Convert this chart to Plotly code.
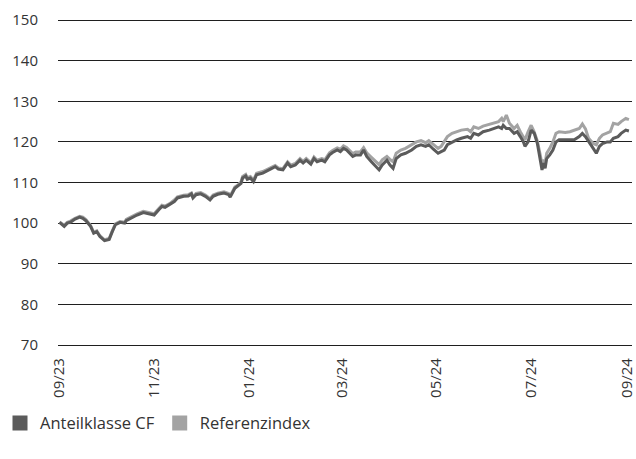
import plotly.graph_objects as go

dates = [
    "2023-09-01", "2023-09-04", "2023-09-06", "2023-09-08", "2023-09-11", "2023-09-14", "2023-09-16", "2023-09-18",
    "2023-09-21", "2023-09-23", "2023-09-25", "2023-09-27", "2023-09-30", "2023-10-03", "2023-10-05", "2023-10-07",
    "2023-10-10", "2023-10-13", "2023-10-14", "2023-10-18", "2023-10-21", "2023-10-25", "2023-10-29", "2023-11-01",
    "2023-11-04", "2023-11-06", "2023-11-08", "2023-11-11", "2023-11-14", "2023-11-16", "2023-11-20", "2023-11-23",
    "2023-11-25", "2023-11-26", "2023-11-28", "2023-12-01", "2023-12-04", "2023-12-07", "2023-12-09", "2023-12-12",
    "2023-12-16", "2023-12-19", "2023-12-20", "2023-12-23", "2023-12-25", "2023-12-27", "2023-12-28", "2023-12-30",
    "2023-12-31", "2024-01-02", "2024-01-04", "2024-01-06", "2024-01-10", "2024-01-12", "2024-01-15", "2024-01-18",
    "2024-01-20", "2024-01-23", "2024-01-26", "2024-01-28", "2024-01-31", "2024-02-03", "2024-02-05", "2024-02-07",
    "2024-02-10", "2024-02-12", "2024-02-14", "2024-02-17", "2024-02-19", "2024-02-22", "2024-02-24", "2024-02-27",
    "2024-02-29", "2024-03-02", "2024-03-04", "2024-03-06", "2024-03-08", "2024-03-10", "2024-03-13", "2024-03-15",
    "2024-03-17", "2024-03-20", "2024-03-23", "2024-03-25", "2024-03-27", "2024-03-30", "2024-04-01", "2024-04-03",
    "2024-04-05", "2024-04-08", "2024-04-11", "2024-04-15", "2024-04-18", "2024-04-21", "2024-04-24", "2024-04-26",
    "2024-04-29", "2024-05-02", "2024-05-04", "2024-05-06", "2024-05-08", "2024-05-11", "2024-05-14", "2024-05-17",
    "2024-05-21", "2024-05-23", "2024-05-25", "2024-05-28", "2024-05-31", "2024-06-04", "2024-06-07", "2024-06-10",
    "2024-06-12", "2024-06-13", "2024-06-15", "2024-06-17", "2024-06-20", "2024-06-22", "2024-06-24", "2024-06-26",
    "2024-06-27", "2024-06-29", "2024-07-01", "2024-07-03", "2024-07-05", "2024-07-07", "2024-07-08", "2024-07-09",
    "2024-07-10", "2024-07-11", "2024-07-13", "2024-07-15", "2024-07-17", "2024-07-19", "2024-07-23", "2024-07-26",
    "2024-07-29", "2024-08-01", "2024-08-03", "2024-08-05", "2024-08-07", "2024-08-10", "2024-08-12", "2024-08-14",
    "2024-08-16", "2024-08-19", "2024-08-21", "2024-08-23", "2024-08-26", "2024-08-28", "2024-08-31", "2024-09-02",
]

fund_cf = [
    100.2, 99.2, 100.0, 100.2, 101.0, 101.5, 101.2, 100.6,
    99.2, 97.5, 97.9, 96.7, 95.7, 96.0, 97.9, 99.6,
    100.2, 100.0, 100.6, 101.5, 102.0, 102.6, 102.3, 102.0,
    103.3, 104.1, 103.9, 104.5, 105.3, 106.2, 106.6, 106.7,
    107.2, 106.2, 107.0, 107.2, 106.6, 105.7, 106.6, 107.1,
    107.4, 107.0, 106.4, 108.6, 109.1, 109.8, 111.1, 111.6,
    110.8, 111.1, 110.2, 111.9, 112.3, 112.7, 113.3, 113.9,
    113.3, 113.1, 114.8, 113.9, 114.3, 115.5, 114.8, 115.5,
    114.5, 115.9, 115.1, 115.5, 115.1, 116.8, 117.4, 118.0,
    117.6, 118.4, 118.0, 117.2, 116.4, 116.8, 116.8, 118.0,
    116.4, 115.1, 113.9, 113.1, 114.3, 115.5, 114.3, 113.5,
    115.9, 116.8, 117.2, 118.0, 118.9, 119.3, 118.9, 119.3,
    118.2, 117.2, 117.6, 118.0, 119.3, 120.0, 120.5, 120.9,
    121.3, 120.9, 122.1, 121.7, 122.5, 122.9, 123.3, 123.7,
    123.3, 124.1, 123.3, 123.3, 122.1, 122.5, 121.3, 120.0,
    118.9, 120.0, 122.9, 122.1, 119.6, 115.5, 113.1, 114.8,
    113.5, 115.9, 116.8, 118.0, 120.0, 120.5, 120.5, 120.5,
    120.6, 121.3, 122.1, 121.3, 120.0, 118.4, 117.2, 118.9,
    119.6, 120.0, 120.0, 120.9, 121.3, 122.1, 122.9, 122.7,
]

referenz = [
    100.3, 99.5, 100.2, 100.5, 101.2, 101.7, 101.5, 100.9,
    99.4, 97.8, 98.1, 96.9, 95.9, 96.2, 98.1, 99.8,
    100.4, 100.2, 100.9, 101.8, 102.3, 102.9, 102.5, 102.3,
    103.6, 104.4, 104.2, 104.8, 105.7, 106.5, 106.9, 107.0,
    107.4, 106.5, 107.3, 107.5, 106.9, 106.0, 106.9, 107.4,
    107.7, 107.3, 106.7, 108.9, 109.4, 110.2, 111.5, 112.0,
    111.2, 111.5, 110.6, 112.3, 112.7, 113.1, 113.7, 114.2,
    113.6, 113.4, 115.1, 114.3, 114.7, 115.9, 115.2, 115.9,
    114.9, 116.3, 115.5, 115.9, 115.6, 117.3, 117.9, 118.5,
    118.2, 119.0, 118.6, 117.8, 117.1, 117.5, 117.6, 118.6,
    117.3, 116.2, 115.0, 114.4, 115.6, 116.4, 115.7, 115.1,
    117.2, 118.0, 118.4, 119.3, 120.0, 120.3, 119.8, 120.3,
    119.3, 118.4, 118.9, 120.0, 121.3, 122.1, 122.5, 122.9,
    123.1, 122.5, 123.7, 123.3, 123.9, 124.4, 124.6, 125.0,
    125.8, 125.0, 126.6, 124.6, 123.3, 124.1, 122.5, 121.3,
    120.5, 122.5, 124.1, 122.4, 120.2, 116.5, 114.3, 115.6,
    114.8, 117.2, 118.4, 120.0, 122.1, 122.5, 122.3, 122.5,
    122.9, 123.3, 124.4, 123.2, 120.9, 119.6, 119.3, 120.9,
    121.7, 122.1, 122.5, 124.6, 124.3, 125.0, 125.8, 125.5,
]

tick_dates = ["2023-09-01", "2023-11-01", "2024-01-01", "2024-03-01", "2024-05-01", "2024-07-01", "2024-09-01"]
tick_labels = ["09/23", "11/23", "01/24", "03/24", "05/24", "07/24", "09/24"]
y_ticks = [70, 80, 90, 100, 110, 120, 130, 140, 150]

names = ["Anteilklasse CF", "Referenzindex"]
colors = ["#5b5b5b", "#a3a3a3"]

FONT = "Open Sans"
GRID = "#1f1f1f"

fig = go.Figure()
fig.add_trace(go.Scatter(x=dates, y=referenz, mode="lines", line=dict(color=colors[1], width=3),
                         showlegend=False, hoverinfo="skip"))
fig.add_trace(go.Scatter(x=dates, y=fund_cf, mode="lines", line=dict(color=colors[0], width=3),
                         showlegend=False, hoverinfo="skip"))
for n, c in zip(names, colors):
    fig.add_trace(go.Scatter(x=[None], y=[None], mode="markers", name=n,
                             marker=dict(symbol="square", size=15, color=c)))

fig.update_layout(
    width=636, height=459,
    margin=dict(l=58, r=4, t=18, b=114, autoexpand=False),
    paper_bgcolor="white", plot_bgcolor="white",
    font=dict(family=FONT, size=15, color="#333333"),
    showlegend=True,
    legend=dict(orientation="h", xref="container", yref="container",
                x=-0.04, xanchor="left", y=0.078, yanchor="middle",
                font=dict(family=FONT, size=16.5, color="#333333"),
                itemwidth=30, tracegroupgap=0, bgcolor="rgba(0,0,0,0)"),
)
fig.update_xaxes(
    type="date", range=["2023-08-31", "2024-09-04"],
    tickvals=tick_dates, ticktext=tick_labels, tickangle=-90,
    showgrid=False, zeroline=False,
    showline=True, linecolor=GRID, linewidth=1.2,
    ticks="outside", ticklen=6, tickcolor="rgba(0,0,0,0)",
    ticklabeloverflow="allow",
    tickfont=dict(family=FONT, size=15, color="#333333"),
)
fig.update_yaxes(
    range=[70, 150.5], tickvals=y_ticks,
    showgrid=True, gridcolor=GRID, gridwidth=1.2,
    zeroline=False, showline=False,
    ticks="outside", ticklen=16, tickcolor="rgba(0,0,0,0)",
    tickfont=dict(family=FONT, size=15, color="#333333"),
)

fig.write_html("out.html", config={"displayModeBar": False},
               post_script="document.body.style.margin='0px';")
